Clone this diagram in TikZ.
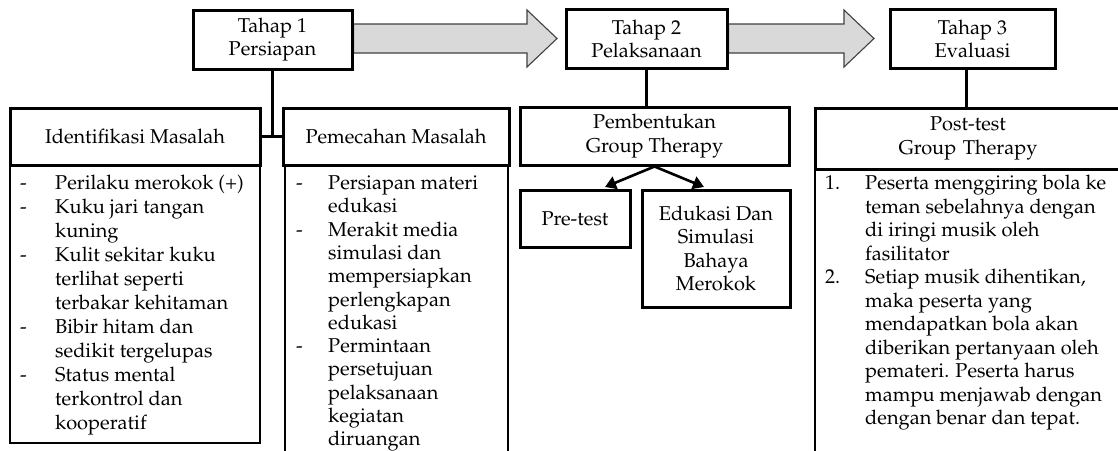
\documentclass[tikz,border=0pt]{standalone}
\usepackage[T1]{fontenc}
\usepackage{mathpazo}
\usetikzlibrary{arrows.meta,calc}
\newcommand{\myfs}{\fontsize{20}{23.5}\selectfont}
\definecolor{arrowgray}{HTML}{D9D9D9}
\definecolor{arrowline}{HTML}{404040}
\begin{document}
\begin{tikzpicture}[x=1pt,y=-1pt,
  thickbox/.style={draw,line width=3pt,inner sep=0pt,align=center,font=\myfs,fill=white},
  thinline/.style={draw,line width=1.3pt},
  conn/.style={line width=3pt},
  smallarr/.style={line width=2.6pt,-{Triangle[length=11pt,width=13pt]}},
  blockarrow/.style={fill=arrowgray,draw=arrowline,line width=1.1pt,line join=miter},
  listtxt/.style={anchor=base west,inner sep=0pt,font=\myfs}]
\useasboundingbox (0,0) rectangle (1118,450);

% thin list frames
\draw[thinline] (10,165) rectangle (260,443);
\draw[thinline] (285,165) -- (285,452) (508,165) -- (508,452);
\draw[thinline] (815,169) -- (815,452) (1121,169) -- (1121,452);

% top stage boxes
\node[thickbox,minimum width=159pt,minimum height=59pt] (t1) at (272.5,39.5) {Tahap 1\\Persiapan};
\node[thickbox,minimum width=161pt,minimum height=59pt] (t2) at (646.5,39) {Tahap 2\\Pelaksanaan};
\node[thickbox,minimum width=165pt,minimum height=59pt] (t3) at (972.5,39) {Tahap 3\\Evaluasi};

% block arrows
\draw[blockarrow] (t1.east |- 0,24) -- (527,24) -- (527,10) -- (557,38.5) -- (527,67) -- (527,53) -- (t1.east |- 0,53) -- cycle;
\draw[blockarrow] (t2.east |- 0,24) -- (844,24) -- (844,10) -- (874,38.5) -- (844,67) -- (844,53) -- (t2.east |- 0,53) -- cycle;
\node[thickbox,minimum width=159pt,minimum height=59pt] at (t1) {Tahap 1\\Persiapan};
\node[thickbox,minimum width=161pt,minimum height=59pt] at (t2) {Tahap 2\\Pelaksanaan};

% header boxes
\node[thickbox,minimum width=250pt,minimum height=57pt] (idh) at (135,136.5) {Identifikasi Masalah};
\node[thickbox,minimum width=226pt,minimum height=57pt] (pmh) at (396,136.5) {Pemecahan Masalah};
\node[thickbox,minimum width=269pt,minimum height=58pt] (pbh) at (654.5,136) {Pembentukan\\Group Therapy};
\node[thickbox,minimum width=306pt,minimum height=61pt,text width=298pt] (psh) at (968,138.5) {Post-test\\Group Therapy};
\node[thickbox,minimum width=110pt,minimum height=57pt] (pre) at (575,218.5) {Pre-test};
\node[thickbox,minimum width=148pt,minimum height=117pt] (edu) at (716,248.5) {Edukasi Dan\\Simulasi\\Bahaya\\Merokok};

% connectors
\draw[conn] (t1.south) -- (t1.south |- idh.east);
\draw[conn] (idh.east) -- (pmh.west);
\draw[conn] (t2.south) -- (t2.south |- pbh.north);
\draw[conn] (t3.south -| 966,0) -- (966,0 |- psh.north);
\coordinate (pa) at (605,187);
\coordinate (ea) at (704,187);
\draw[smallarr] (pbh.south) -- (pa);
\draw[smallarr] (pbh.south) -- (ea);

% Identifikasi list
\foreach \t [count=\i] in {Perilaku merokok (+),Kuku jari tangan,kuning,Kulit sekitar kuku,terlihat seperti,terbakar kehitaman,Bibir hitam dan,sedikit tergelupas,Status mental,terkontrol dan,kooperatif}
  \node[listtxt] (id\i) at (55,{189.5+(\i-1)*24}) {\t};
\foreach \i in {1,2,4,7,9}
  \node[listtxt] (idd\i) at (20,{189.5+(\i-1)*24}) {-};

% Pemecahan list
\foreach \t [count=\i] in {Persiapan materi,edukasi,Merakit media,simulasi dan,mempersiapkan,perlengkapan,edukasi,Permintaan,persetujuan,pelaksanaan,kegiatan,diruangan}
  \node[listtxt] (pm\i) at (328,{189.5+(\i-1)*23.3}) {\t};
\foreach \i in {1,3,8}
  \node[listtxt] (pmd\i) at (296,{189.5+(\i-1)*23.3}) {-};

% Post-test list
\foreach \t [count=\i] in {Peserta menggiring bola ke,teman sebelahnya dengan,di iringi musik oleh,fasilitator,{Setiap musik dihentikan,},maka peserta yang,mendapatkan bola akan,diberikan pertanyaan oleh,pemateri. Peserta harus,mampu menjawab dengan,dengan benar dan tepat.}
  \node[listtxt] (ps\i) at (865,{189.5+(\i-1)*23.5}) {\t};
\node[listtxt] (psn1) at (825,189.5) {1.};
\node[listtxt] (psn2) at (825,{189.5+4*23.5}) {2.};
\end{tikzpicture}
\end{document}
